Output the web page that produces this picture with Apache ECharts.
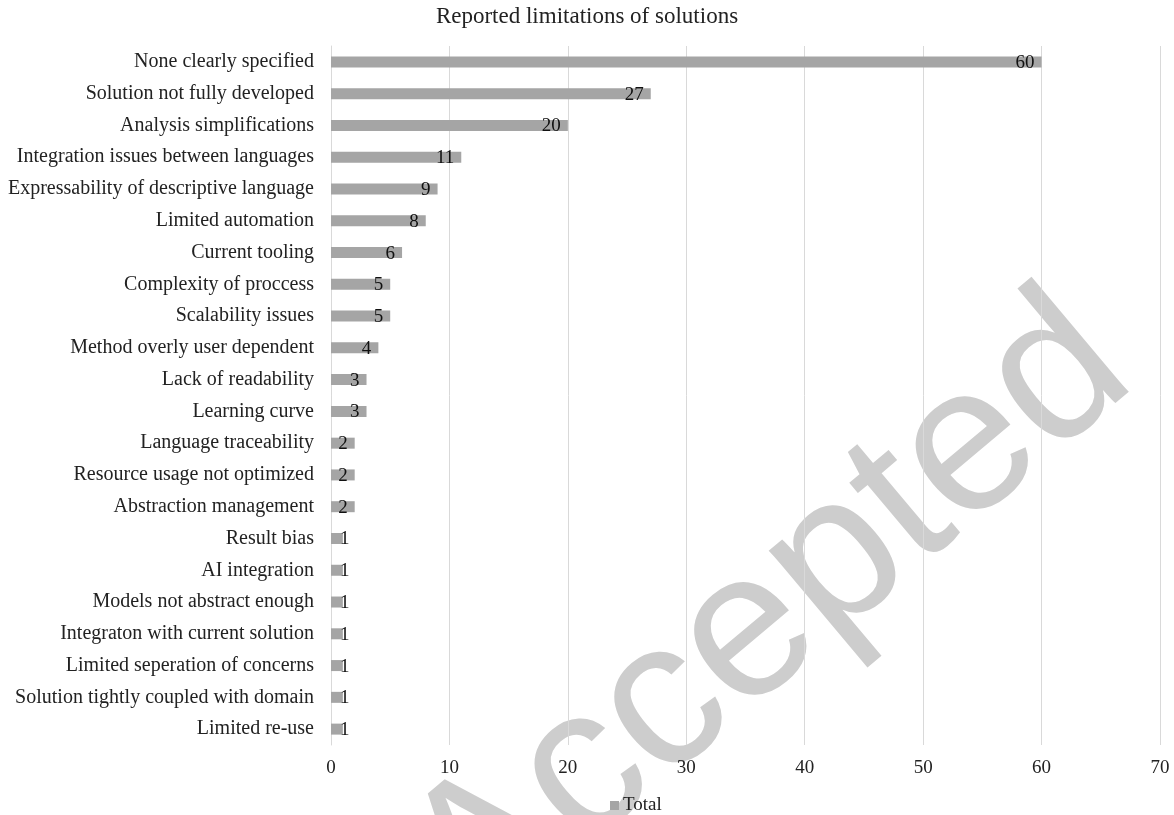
<!DOCTYPE html>
<html>
<head>
<meta charset="utf-8">
<title>Reported limitations of solutions</title>
<script src="https://cdn.jsdelivr.net/npm/echarts@6/dist/echarts.min.js"></script>
<style>
  html, body { margin: 0; padding: 0; background: #fff; }
  #chart { width: 1174px; height: 815px; }
</style>
</head>
<body>
<div id="chart"></div>
<script>
// Limitation categories, top to bottom
const categories = [
  'None clearly specified',
  'Solution not fully developed',
  'Analysis simplifications',
  'Integration issues between languages',
  'Expressability of descriptive language',
  'Limited automation',
  'Current tooling',
  'Complexity of proccess',
  'Scalability issues',
  'Method overly user dependent',
  'Lack of readability',
  'Learning curve',
  'Language traceability',
  'Resource usage not optimized',
  'Abstraction management',
  'Result bias',
  'AI integration',
  'Models not abstract enough',
  'Integraton with current solution',
  'Limited seperation of concerns',
  'Solution tightly coupled with domain',
  'Limited re-use'
];

// Number of papers reporting each limitation
const totals = [60, 27, 20, 11, 9, 8, 6, 5, 5, 4, 3, 3, 2, 2, 2, 1, 1, 1, 1, 1, 1, 1];

const seriesName = 'Total';
const chartTitle = 'Reported limitations of solutions';
const stampText = 'Accepted';

const serif = '"Liberation Serif", "Times New Roman", serif';

// Very short bars keep their label just past the bar end
const barData = totals.map(v => v <= 1
  ? { value: v, label: { position: 'insideLeft', distance: 9 } }
  : { value: v });

const chart = echarts.init(document.getElementById('chart'));
chart.setOption({
  animation: false,
  backgroundColor: '#ffffff',
  textStyle: { fontFamily: serif },
  title: {
    text: chartTitle,
    left: 'center',
    top: 0,
    textStyle: { fontFamily: serif, fontSize: 23, fontWeight: 'normal', color: '#222' }
  },
  graphic: [{
    type: 'text',
    z: -10,
    x: 770,
    y: 618,
    rotation: 40 * Math.PI / 180,
    silent: true,
    style: {
      text: stampText,
      fontFamily: '"Liberation Sans", Arial, sans-serif',
      fontSize: 208,
      fill: '#cdcdcd',
      align: 'center',
      verticalAlign: 'middle'
    }
  }],
  legend: {
    data: [seriesName],
    left: 605,
    top: 791,
    icon: 'rect',
    itemWidth: 9,
    itemHeight: 9,
    itemGap: 5,
    textStyle: { fontFamily: serif, fontSize: 19, color: '#222', padding: [0, 0, 0, -1] }
  },
  grid: { left: 331, right: 14, top: 46, bottom: 70 },
  xAxis: {
    type: 'value',
    min: 0,
    max: 70,
    interval: 10,
    axisLine: { show: false },
    axisTick: { show: false },
    splitLine: { lineStyle: { color: '#d9d9d9', width: 1 } },
    axisLabel: { margin: 14, fontFamily: serif, fontSize: 19, color: '#222' }
  },
  yAxis: {
    type: 'category',
    inverse: true,
    data: categories,
    axisLine: { show: true, lineStyle: { color: '#d9d9d9', width: 1 } },
    axisTick: { show: false },
    axisLabel: { margin: 17, fontFamily: serif, fontSize: 20, color: '#222' }
  },
  series: [{
    name: seriesName,
    type: 'bar',
    data: barData,
    barWidth: 11,
    itemStyle: { color: '#a5a5a5' },
    label: {
      show: true,
      position: 'insideRight',
      distance: 7,
      offset: [0, 1],
      fontFamily: serif,
      fontSize: 19,
      color: '#111'
    }
  }]
});
</script>
</body>
</html>
